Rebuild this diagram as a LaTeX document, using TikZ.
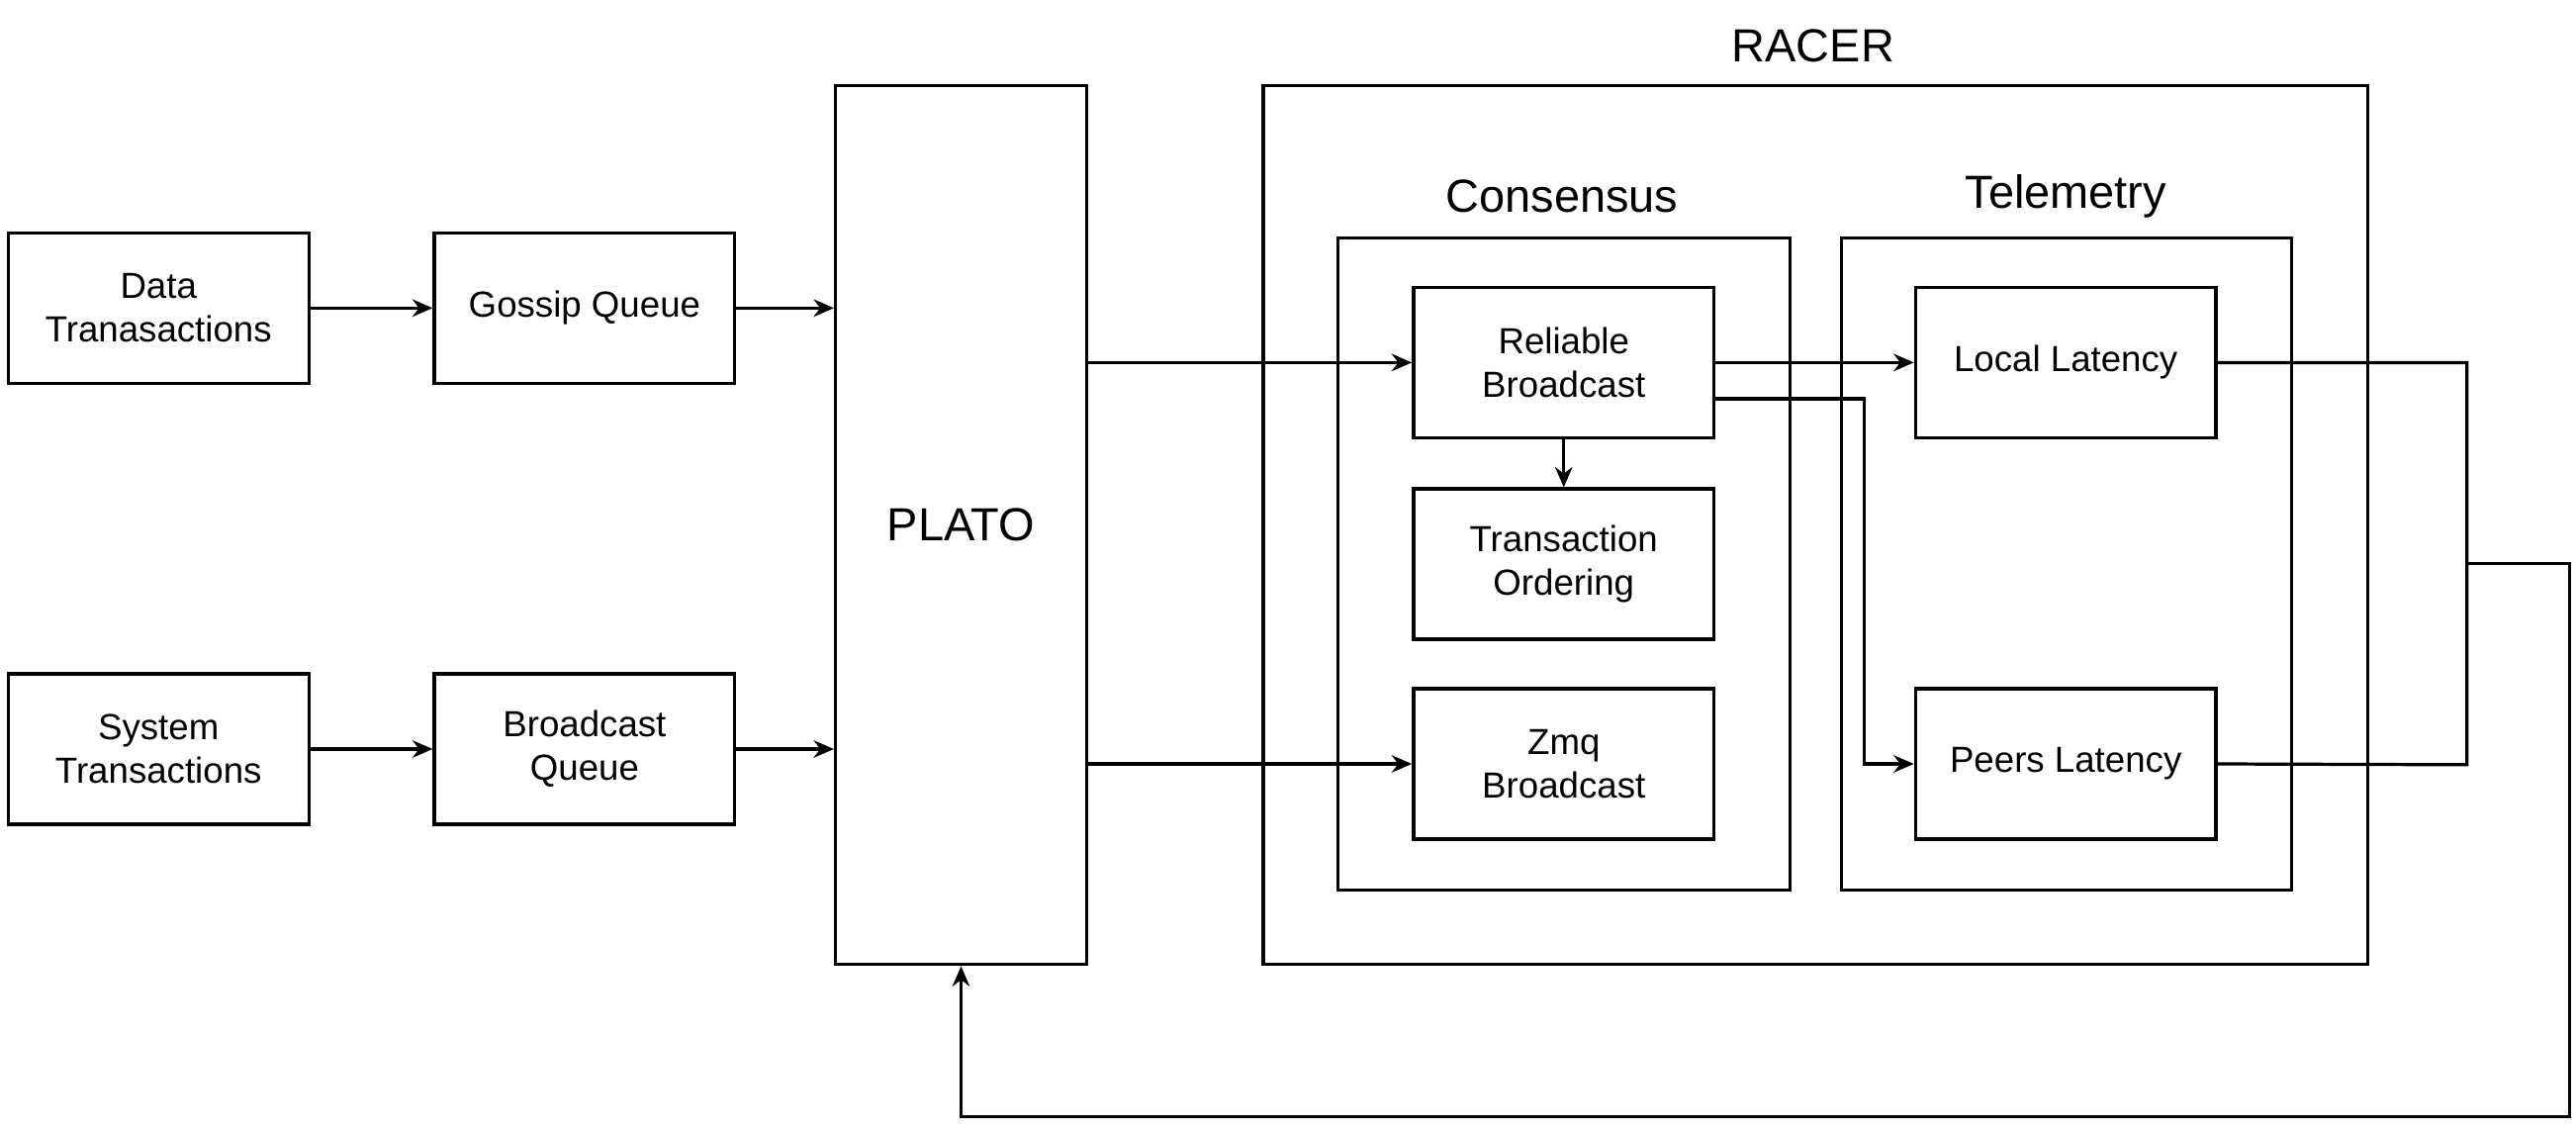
\documentclass[tikz,border=0pt]{standalone}
\usepackage{fontspec}
\setmainfont{Liberation Sans}
\usetikzlibrary{arrows.meta}
\begin{document}
\begin{tikzpicture}[x=0.02cm,y=0.02cm,
 every node/.style={font=\fontsize{12.5}{15}\selectfont},
 box/.style={draw,line width=1.1pt,minimum width=3.64cm,minimum height=1.82cm,inner sep=1pt,align=center},
 big/.style={draw,line width=1.1pt,inner sep=0pt},
 lbl/.style={font=\fontsize{16}{19}\selectfont},
 arr/.style={line width=1.1pt,-{Stealth[length=7pt,width=6pt]}},
 ln/.style={line width=1.1pt}]
\useasboundingbox (0,0) rectangle (1560,-685);
\node[big,minimum width=13.38cm,minimum height=10.64cm] (racer) at (1099.5,-318) {};
\node[lbl] (racerl) at (1098,-28) {RACER};
\node[big,minimum width=5.48cm,minimum height=7.9cm] (cons) at (947,-341.5) {};
\node[lbl] (consl) at (946,-119) {Consensus};
\node[big,minimum width=5.46cm,minimum height=7.9cm] (tele) at (1251.5,-341.5) {};
\node[lbl] (telel) at (1251,-119) {Telemetry};
\node[big,minimum width=3.04cm,minimum height=10.64cm,font=\fontsize{16}{19}\selectfont] (plato) at (582,-318) {PLATO};
\node[box] (data) at (96,-186.5) {Data\\Tranasactions};
\node[box] (gossip) at (354,-186.5) {Gossip Queue};
\node[box] (sys) at (96,-453.5) {System\\Transactions};
\node[box] (bq) at (354,-453.5) {Broadcast\\Queue};
\node[box] (rb) at (947,-219.5) {Reliable\\Broadcast};
\node[box] (to) at (947,-341.5) {Transaction\\Ordering};
\node[box] (zmq) at (947,-462.5) {Zmq\\Broadcast};
\node[box] (ll) at (1251,-219.5) {Local Latency};
\node[box] (pl) at (1251,-462.5) {Peers Latency};
\coordinate (j1) at (1494,-341);
\coordinate (c1) at (1556,-341);
\coordinate (c2) at (1556,-676);
\coordinate (c3) at (582,-676);
\draw[arr] (data) -- (gossip);
\draw[arr] (gossip.east) -- (gossip.east -| plato.west);
\draw[arr] (sys) -- (bq);
\draw[arr] (bq.east) -- (bq.east -| plato.west);
\draw[arr] (rb.west -| plato.east) -- (rb.west);
\draw[arr] (zmq.west -| plato.east) -- (zmq.west);
\draw[arr] (rb) -- (ll);
\draw[arr] (rb) -- (to);
\draw[arr] ([yshift=-0.44cm]rb.east) -| (1129,-462.5) -- (pl.west);
\draw[ln] (ll.east) -| (1494,-463) -- (pl.east);
\draw[arr] (j1) -- (c1) -- (c2) -- (c3) -- (plato.south);
\end{tikzpicture}
\end{document}
